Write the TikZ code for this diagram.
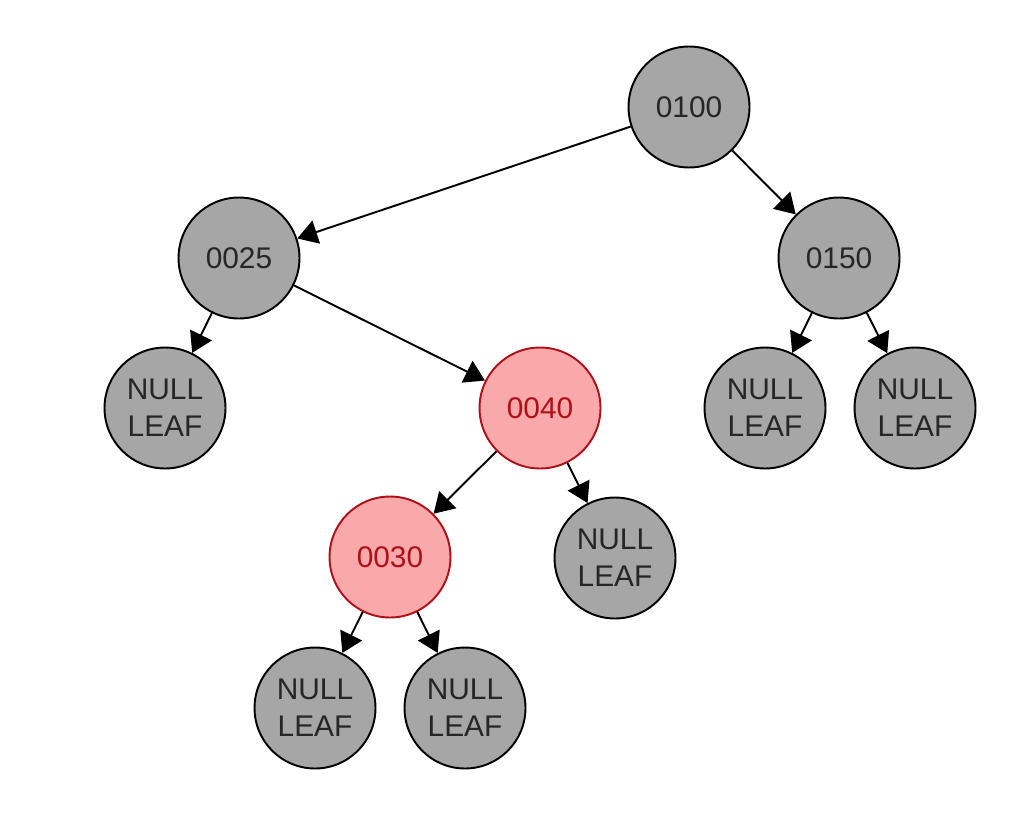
\documentclass[tikz,border=0pt]{standalone}
\usepackage{fontspec}
\setmainfont{Liberation Sans}
\usetikzlibrary{arrows.meta}
\definecolor{nodegray}{HTML}{A6A6A6}
\definecolor{redfill}{HTML}{F9A9AA}
\definecolor{redline}{HTML}{B0101A}
\begin{document}
\begin{tikzpicture}[x=0.02cm,y=-0.02cm,
  treenode/.style={circle,draw=black,line width=1.1pt,fill=nodegray,
    minimum size=2.42cm,inner sep=0pt,font=\fontsize{17}{21}\selectfont,
    align=center,text=black!85},
  rednode/.style={treenode,draw=redline,fill=redfill,text=redline},
  link/.style={line width=1.1pt,-{Triangle[length=0.4cm,width=0.48cm]}}]
\useasboundingbox (0,0) rectangle (1016,838);
\node[treenode] (n100) at (689,107) {0100};
\node[treenode] (n25)  at (239,258) {0025};
\node[treenode] (n150) at (839,258) {0150};
\node[treenode] (l1)   at (165,408) {NULL\\LEAF};
\node[rednode]  (n40)  at (540,408) {0040};
\node[treenode] (l2)   at (765,408) {NULL\\LEAF};
\node[treenode] (l3)   at (915,408) {NULL\\LEAF};
\node[rednode]  (n30)  at (390,557) {0030};
\node[treenode] (l4)   at (615,558) {NULL\\LEAF};
\node[treenode] (l5)   at (315,708) {NULL\\LEAF};
\node[treenode] (l6)   at (465,708) {NULL\\LEAF};
\draw[link] (n100) -- (n25);
\draw[link] (n100) -- (n150);
\draw[link] (n25) -- (l1);
\draw[link] (n25) -- (n40);
\draw[link] (n150) -- (l2);
\draw[link] (n150) -- (l3);
\draw[link] (n40) -- (n30);
\draw[link] (n40) -- (l4);
\draw[link] (n30) -- (l5);
\draw[link] (n30) -- (l6);
\end{tikzpicture}
\end{document}
